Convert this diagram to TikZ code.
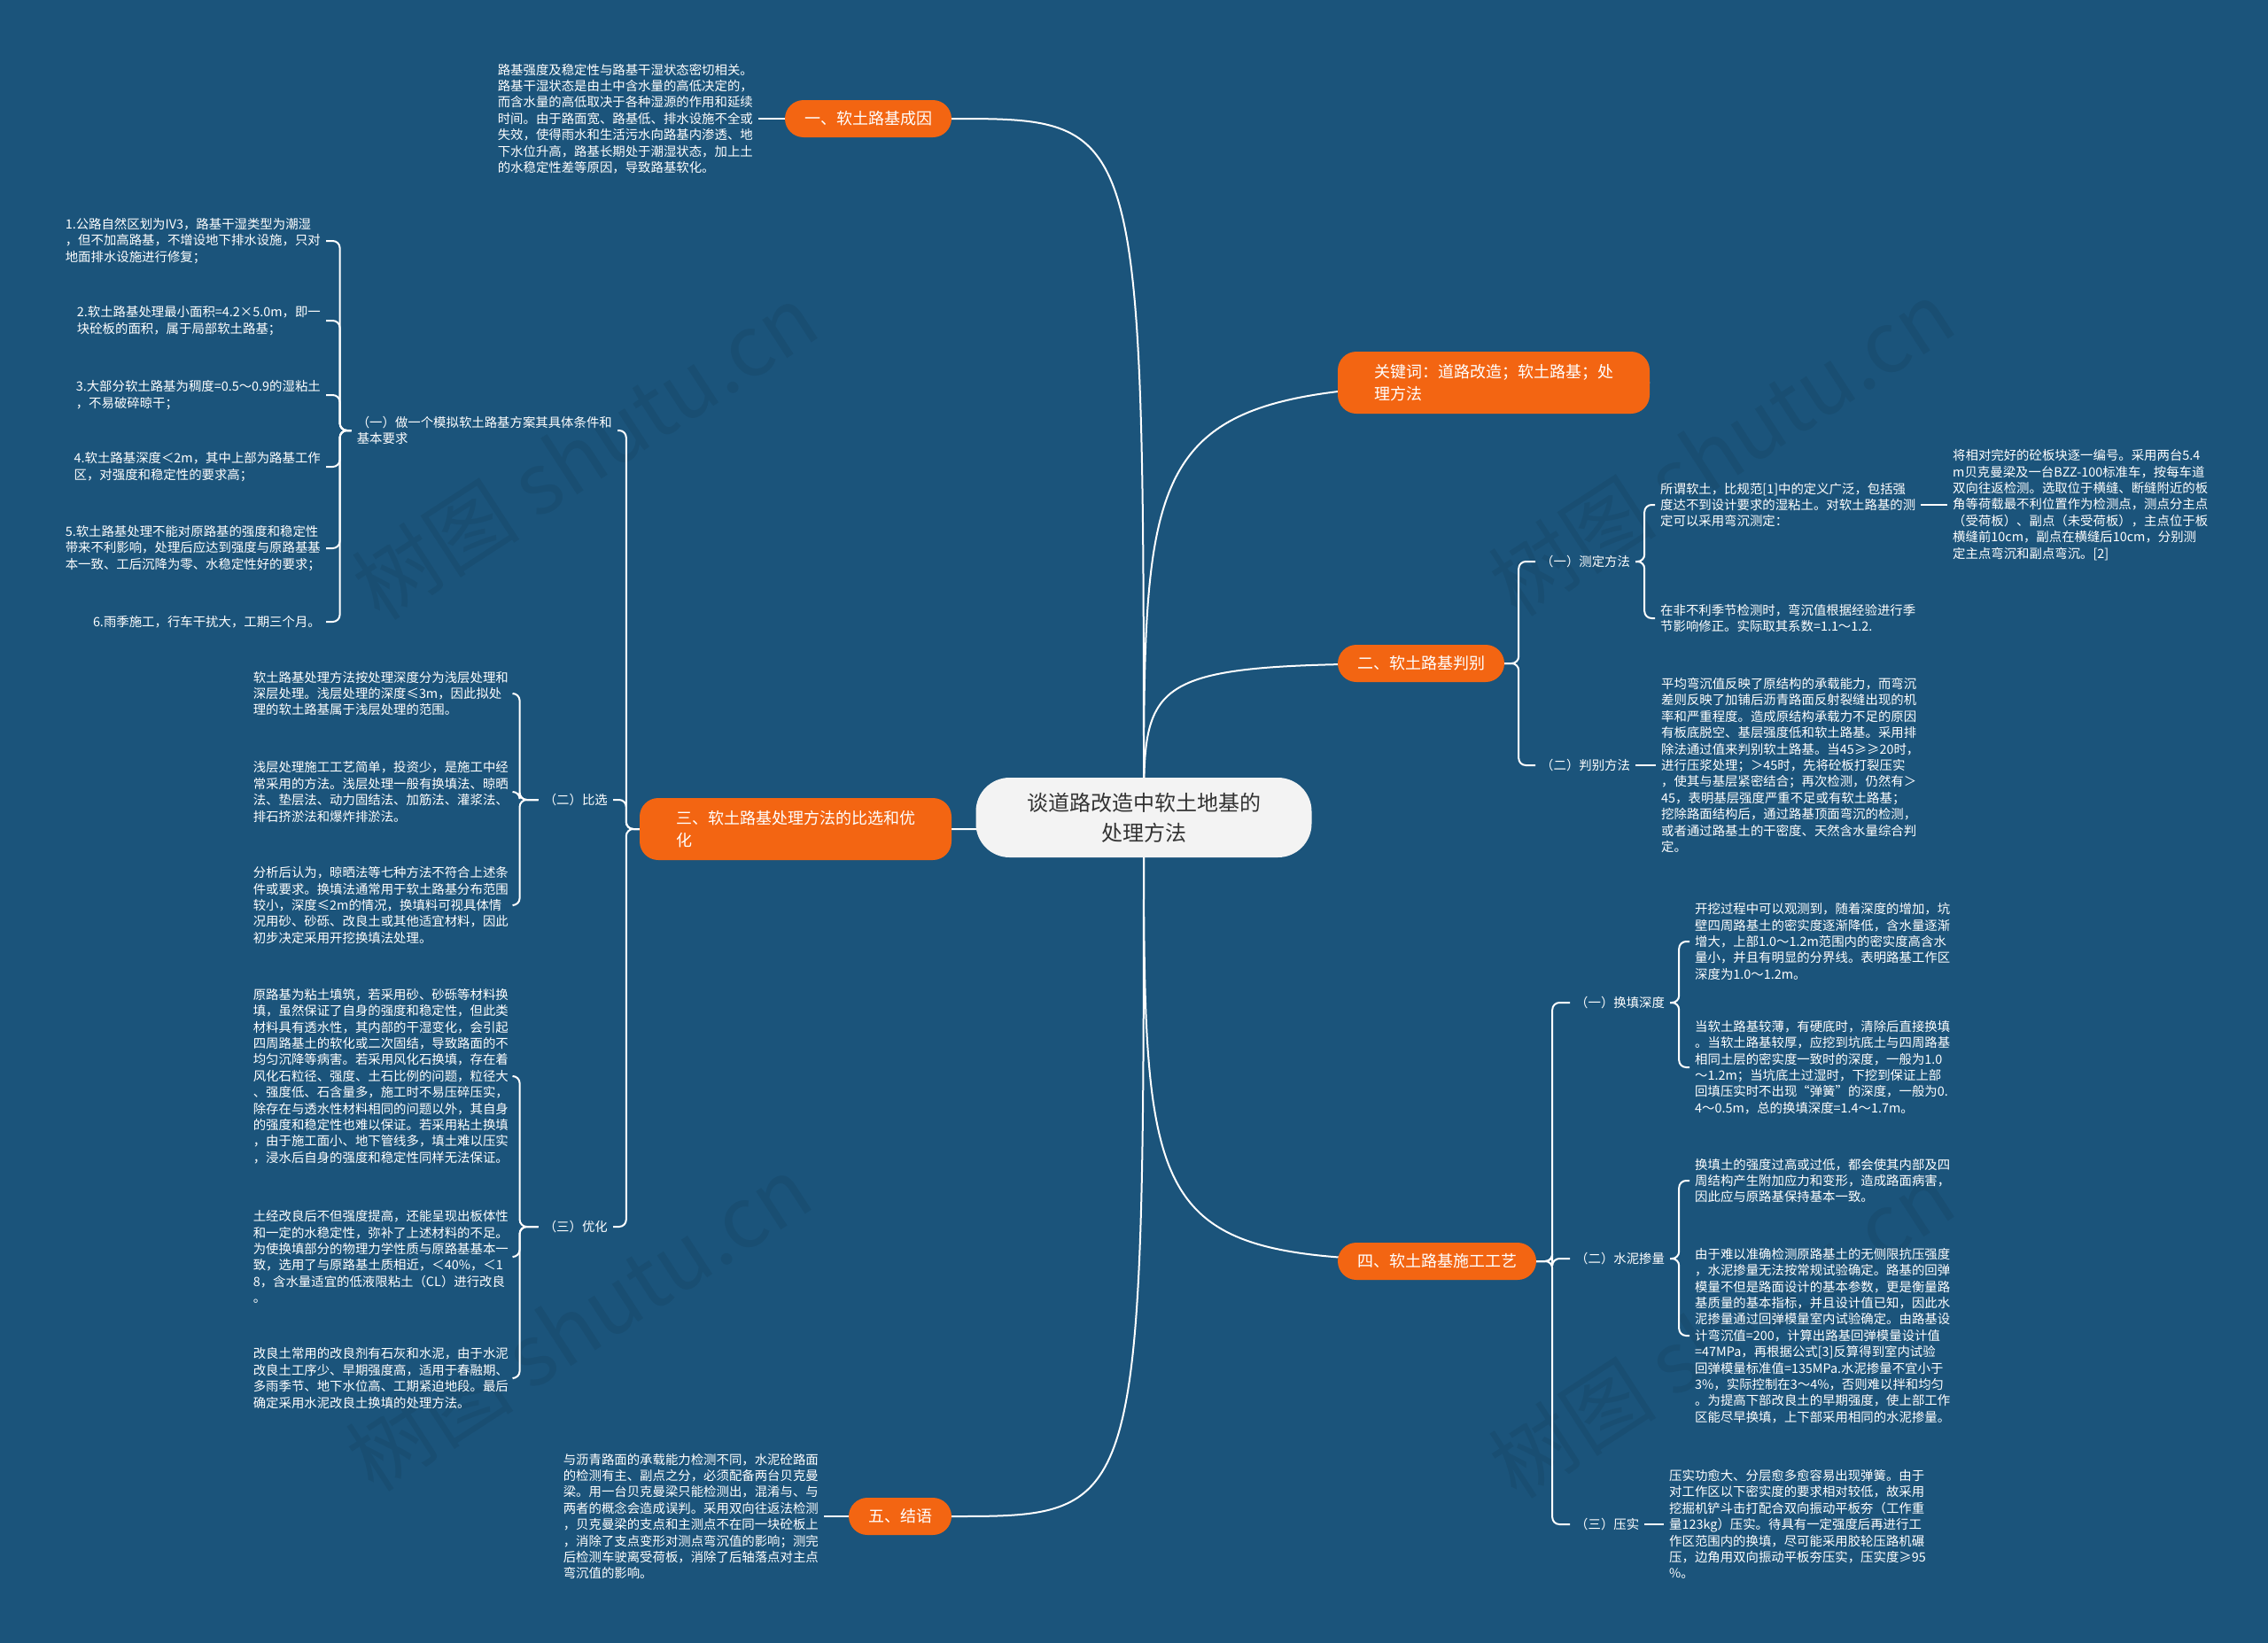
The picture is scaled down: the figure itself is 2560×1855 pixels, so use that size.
\documentclass[tikz,border=0pt]{standalone}
\usepackage{fontspec}
\setmainfont{Noto Sans CJK SC}
\usetikzlibrary{backgrounds}
\definecolor{bgc}{RGB}{27,84,123}
\definecolor{orc}{RGB}{243,101,18}
\definecolor{rootc}{RGB}{243,243,243}
\definecolor{roott}{RGB}{51,51,51}
\newcommand\txtfont{\fontsize{14.4}{18.4}\selectfont}
\tikzset{
  root/.style ={fill=rootc, text=roott, rounded corners=38pt, minimum width=379pt, minimum height=90pt, align=center, font=\fontsize{24}{34}\selectfont},
  topic/.style={fill=orc, text=white, rounded corners=21pt, minimum height=42pt, inner xsep=22pt, align=left, font=\fontsize{18}{25}\selectfont},
  wide/.style ={minimum width=352pt, minimum height=70pt},
  txt/.style  ={text=white, align=left, inner xsep=6pt, inner ysep=0pt, font=\txtfont},
  e/.style    ={draw=white, line width=2pt},
  br/.style   ={draw=white, line width=2pt, rounded corners=8pt},
  wm/.style   ={text=black, text opacity=0.07, rotate=33, font=\fontsize{95}{95}\selectfont},
}
\begin{document}
\begin{tikzpicture}[x=1pt,y=-1pt]
\useasboundingbox (0,0) rectangle (2560,1855);
% centre + main topics
\node[root] (root) at (1291,923) {谈道路改造中软土地基的\\处理方法};
\node[topic] (b1) at (980,134) {一、软土路基成因};
\node[topic, wide] (bk) at (1686,432) {关键词：道路改造；软土路基；处\\理方法};
\node[topic] (b2) at (1604,749) {二、软土路基判别};
\node[topic, wide] (b3) at (898,936) {三、软土路基处理方法的比选和优\\化};
\node[topic] (b4) at (1622,1424) {四、软土路基施工工艺};
\node[topic] (b5) at (1016,1712) {五、结语};
% one: causes
\node[txt, anchor=east] (t1) at (856,134) {路基强度及稳定性与路基干湿状态密切相关。\\路基干湿状态是由土中含水量的高低决定的，\\而含水量的高低取决于各种湿源的作用和延续\\时间。由于路面宽、路基低、排水设施不全或\\失效，使得雨水和生活污水向路基内渗透、地\\下水位升高，路基长期处于潮湿状态，加上土\\的水稳定性差等原因，导致路基软化。};
% three: comparison and optimisation
\node[txt, anchor=east] (l1) at (697,486) {（一）做一个模拟软土路基方案其具体条件和\\基本要求};
\node[txt, anchor=east] (c1) at (368,272) {1.公路自然区划为IV3，路基干湿类型为潮湿\\，但不加高路基，不增设地下排水设施，只对\\地面排水设施进行修复；};
\node[txt, anchor=east] (c2) at (368,362) {2.软土路基处理最小面积=4.2×5.0m，即一\\块砼板的面积，属于局部软土路基；};
\node[txt, anchor=east] (c3) at (368,446) {3.大部分软土路基为稠度=0.5～0.9的湿粘土\\，不易破碎晾干；};
\node[txt, anchor=east] (c4) at (368,527) {4.软土路基深度＜2m，其中上部为路基工作\\区，对强度和稳定性的要求高；};
\node[txt, anchor=east] (c5) at (368,619) {5.软土路基处理不能对原路基的强度和稳定性\\带来不利影响，处理后应达到强度与原路基基\\本一致、工后沉降为零、水稳定性好的要求；};
\node[txt, anchor=east] (c6) at (368,702) {6.雨季施工，行车干扰大，工期三个月。};
\node[txt, anchor=east] (l2) at (692,903) {（二）比选};
\node[txt, anchor=east] (p1) at (580,783) {软土路基处理方法按处理深度分为浅层处理和\\深层处理。浅层处理的深度≤3m，因此拟处\\理的软土路基属于浅层处理的范围。};
\node[txt, anchor=east] (p2) at (580,894) {浅层处理施工工艺简单，投资少，是施工中经\\常采用的方法。浅层处理一般有换填法、晾晒\\法、垫层法、动力固结法、加筋法、灌浆法、\\排石挤淤法和爆炸排淤法。};
\node[txt, anchor=east] (p3) at (580,1022) {分析后认为，晾晒法等七种方法不符合上述条\\件或要求。换填法通常用于软土路基分布范围\\较小，深度≤2m的情况，换填料可视具体情\\况用砂、砂砾、改良土或其他适宜材料，因此\\初步决定采用开挖换填法处理。};
\node[txt, anchor=east] (l3) at (692,1385) {（三）优化};
\node[txt, anchor=east] (q1) at (580,1215) {原路基为粘土填筑，若采用砂、砂砾等材料换\\填，虽然保证了自身的强度和稳定性，但此类\\材料具有透水性，其内部的干湿变化，会引起\\四周路基土的软化或二次固结，导致路面的不\\均匀沉降等病害。若采用风化石换填，存在着\\风化石粒径、强度、土石比例的问题，粒径大\\、强度低、石含量多，施工时不易压碎压实，\\除存在与透水性材料相同的问题以外，其自身\\的强度和稳定性也难以保证。若采用粘土换填\\，由于施工面小、地下管线多，填土难以压实\\，浸水后自身的强度和稳定性同样无法保证。};
\node[txt, anchor=east] (q2) at (580,1419) {土经改良后不但强度提高，还能呈现出板体性\\和一定的水稳定性，弥补了上述材料的不足。\\为使换填部分的物理力学性质与原路基基本一\\致，选用了与原路基土质相近，＜40\%，＜1\\8，含水量适宜的低液限粘土（CL）进行改良\\。};
\node[txt, anchor=east] (q3) at (580,1556) {改良土常用的改良剂有石灰和水泥，由于水泥\\改良土工序少、早期强度高，适用于春融期、\\多雨季节、地下水位高、工期紧迫地段。最后\\确定采用水泥改良土换填的处理方法。};
% five: conclusion
\node[txt, anchor=east] (t5) at (930,1712) {与沥青路面的承载能力检测不同，水泥砼路面\\的检测有主、副点之分，必须配备两台贝克曼\\梁。用一台贝克曼梁只能检测出，混淆与、与\\两者的概念会造成误判。采用双向往返法检测\\，贝克曼梁的支点和主测点不在同一块砼板上\\，消除了支点变形对测点弯沉值的影响；测完\\后检测车驶离受荷板，消除了后轴落点对主点\\弯沉值的影响。};
% two: identification
\node[txt, anchor=west] (r1) at (1733,634) {（一）测定方法};
\node[txt, anchor=west] (g) at (1868,570) {所谓软土，比规范[1]中的定义广泛，包括强\\度达不到设计要求的湿粘土。对软土路基的测\\定可以采用弯沉测定：};
\node[txt, anchor=west] (h) at (2198,570) {将相对完好的砼板块逐一编号。采用两台5.4\\m贝克曼梁及一台BZZ-100标准车，按每车道\\双向往返检测。选取位于横缝、断缝附近的板\\角等荷载最不利位置作为检测点，测点分主点\\（受荷板）、副点（未受荷板），主点位于板\\横缝前10cm，副点在横缝后10cm，分别测\\定主点弯沉和副点弯沉。[2]};
\node[txt, anchor=west] (i) at (1868,698) {在非不利季节检测时，弯沉值根据经验进行季\\节影响修正。实际取其系数=1.1～1.2.};
\node[txt, anchor=west] (r2) at (1733,864) {（二）判别方法};
\node[txt, anchor=west] (t2) at (1869,864) {平均弯沉值反映了原结构的承载能力，而弯沉\\差则反映了加铺后沥青路面反射裂缝出现的机\\率和严重程度。造成原结构承载力不足的原因\\有板底脱空、基层强度低和软土路基。采用排\\除法通过值来判别软土路基。当45≥≥20时，\\进行压浆处理；＞45时，先将砼板打裂压实\\，使其与基层紧密结合；再次检测，仍然有＞\\45，表明基层强度严重不足或有软土路基；\\挖除路面结构后，通过路基顶面弯沉的检测，\\或者通过路基土的干密度、天然含水量综合判\\定。};
% four: construction
\node[txt, anchor=west] (s1) at (1772,1132) {（一）换填深度};
\node[txt, anchor=west] (j) at (1907,1063) {开挖过程中可以观测到，随着深度的增加，坑\\壁四周路基土的密实度逐渐降低，含水量逐渐\\增大，上部1.0～1.2m范围内的密实度高含水\\量小，并且有明显的分界线。表明路基工作区\\深度为1.0～1.2m。};
\node[txt, anchor=west] (k) at (1907,1205) {当软土路基较薄，有硬底时，清除后直接换填\\。当软土路基较厚，应挖到坑底土与四周路基\\相同土层的密实度一致时的深度，一般为1.0\\～1.2m；当坑底土过湿时，下挖到保证上部\\回填压实时不出现“弹簧”的深度，一般为0.\\4～0.5m，总的换填深度=1.4～1.7m。};
\node[txt, anchor=west] (s2) at (1772,1421) {（二）水泥掺量};
\node[txt, anchor=west] (l) at (1907,1333) {换填土的强度过高或过低，都会使其内部及四\\周结构产生附加应力和变形，造成路面病害，\\因此应与原路基保持基本一致。};
\node[txt, anchor=west] (m) at (1907,1508) {由于难以准确检测原路基土的无侧限抗压强度\\，水泥掺量无法按常规试验确定。路基的回弹\\模量不但是路面设计的基本参数，更是衡量路\\基质量的基本指标，并且设计值已知，因此水\\泥掺量通过回弹模量室内试验确定。由路基设\\计弯沉值=200，计算出路基回弹模量设计值\\=47MPa，再根据公式[3]反算得到室内试验\\回弹模量标准值=135MPa.水泥掺量不宜小于\\3\%，实际控制在3～4\%，否则难以拌和均匀\\。为提高下部改良土的早期强度，使上部工作\\区能尽早换填，上下部采用相同的水泥掺量。};
\node[txt, anchor=west] (s3) at (1772,1721) {（三）压实};
\node[txt, anchor=west] (n) at (1878,1721) {压实功愈大、分层愈多愈容易出现弹簧。由于\\对工作区以下密实度的要求相对较低，故采用\\挖掘机铲斗击打配合双向振动平板夯（工作重\\量123kg）压实。待具有一定强度后再进行工\\作区范围内的换填，尽可能采用胶轮压路机碾\\压，边角用双向振动平板夯压实，压实度≥95\\\%。};
% background, watermark, connectors
\begin{scope}[on background layer]
\fill[bgc] (0,0) rectangle (2560,1855);
\node[wm] (wm1) at (660,510) {树图 shutu.cn};
\node[wm] (wm2) at (653,1494) {树图 shutu.cn};
\node[wm] (wm3) at (1943,506) {树图 shutu.cn};
\node[wm] (wm4) at (1943,1502) {树图 shutu.cn};
\foreach \b in {b1,bk,b2,b3,b4,b5}
  \draw[e] (root.center) .. controls (root.center |- \b.east) .. (\b.east);
\draw[e] (b1.west) -- (t1.east);
\draw[e] (b5.west) -- (t5.east);
\foreach \n in {l1,l2,l3} \draw[br] (b3.west) -- ++(-15,0) |- (\n.east);
\foreach \n in {c1,c2,c3,c4,c5,c6} \draw[br] (l1.west) -- ++(-13,0) |- (\n.east);
\foreach \n in {p1,p2,p3} \draw[br] (l2.west) -- ++(-21,0) |- (\n.east);
\foreach \n in {q1,q2,q3} \draw[br] (l3.west) -- ++(-21,0) |- (\n.east);
\foreach \n in {r1,r2} \draw[br] (b2.east) -- ++(16,0) |- (\n.west);
\foreach \n in {g,i} \draw[br] (r1.east) -- ++(10,0) |- (\n.west);
\draw[e] (g.east) -- (h.west);
\draw[e] (r2.east) -- (t2.west);
\foreach \n in {s1,s2,s3} \draw[br] (b4.east) -- ++(18,0) |- (\n.west);
\foreach \n in {j,k} \draw[br] (s1.east) -- ++(10,0) |- (\n.west);
\foreach \n in {l,m} \draw[br] (s2.east) -- ++(10,0) |- (\n.west);
\draw[e] (s3.east) -- (n.west);
\end{scope}
\end{tikzpicture}
\end{document}
